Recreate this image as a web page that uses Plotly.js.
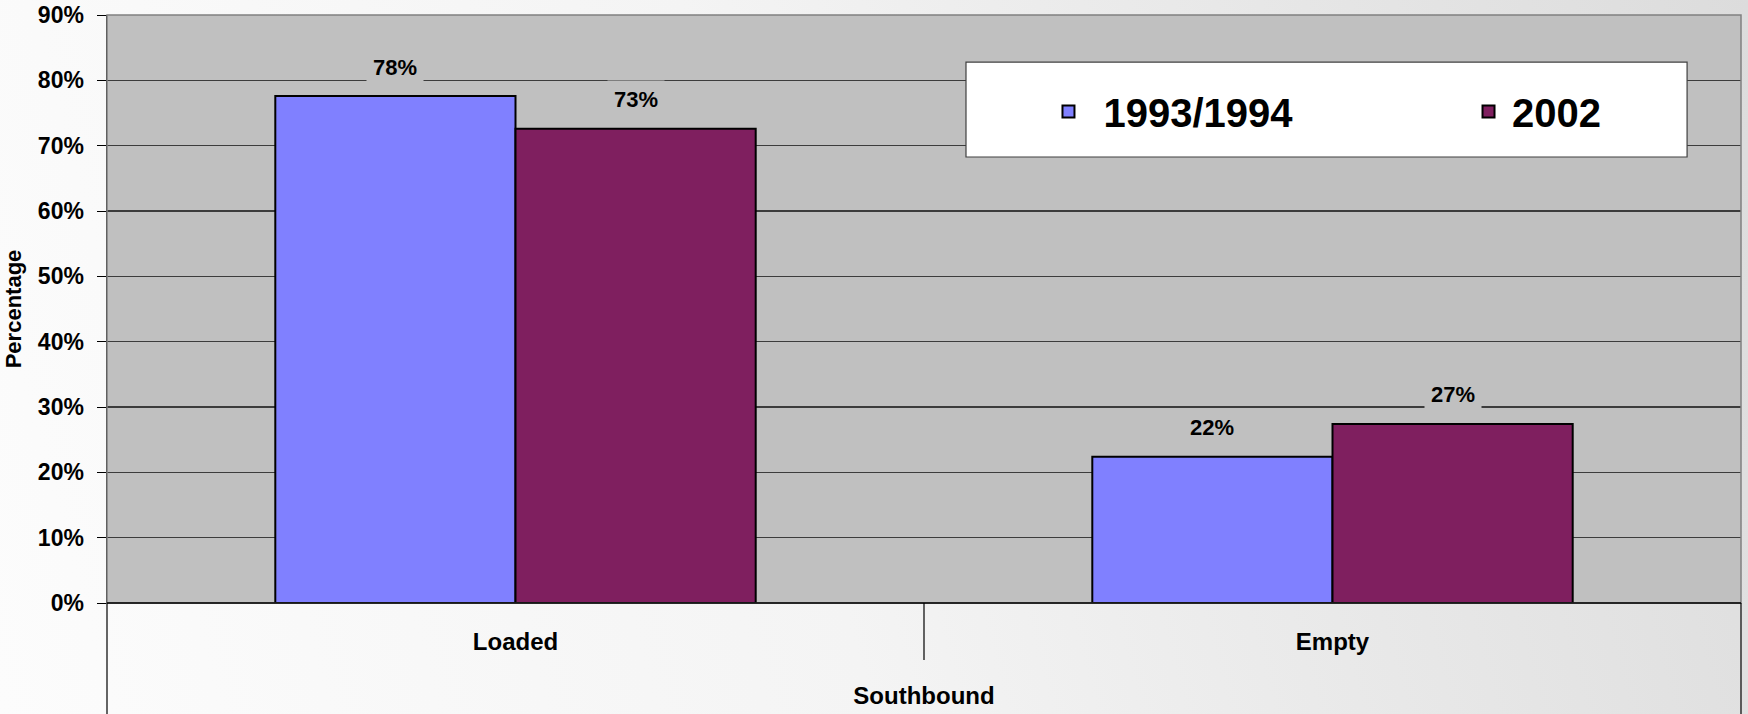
<!DOCTYPE html>
<html><head><meta charset="utf-8">
<script src="https://cdn.plot.ly/plotly-3.0.1.min.js"></script>
<style>
html,body{margin:0;padding:0;}
body{width:1748px;height:714px;overflow:hidden;background:linear-gradient(75deg,#fcfcfc 0%,#f4f4f4 45%,#dcdcdc 100%);}
#chart{width:1748px;height:714px;}
</style></head><body><div id="chart"></div>
<script>
// ---- data ----
const groupName = 'Southbound';
const categories = ['Loaded', 'Empty'];
const seriesNames = ['1993/1994', '2002'];
const values1993 = [77.6, 22.4];
const values2002 = [72.6, 27.4];
const labels1993 = ['78%', '22%'];
const labels2002 = ['73%', '27%'];
const yTickValues = [0, 10, 20, 30, 40, 50, 60, 70, 80, 90];
const yTickLabels = ['0%', '10%', '20%', '30%', '40%', '50%', '60%', '70%', '80%', '90%'];
const yTitle = 'Percentage';

// ---- style ----
const FONT = '"Liberation Sans", Arial, sans-serif';
const colors = ['#8080FF', '#7F1F5F'];
const bargap = 0.412;
const W = 1748, H = 714;
const M = {l: 107, r: 7, t: 15, b: 111};
const plotH = H - M.t - M.b;

const seriesValues = [values1993, values2002];
const seriesLabels = [labels1993, labels2002];
const legendIds = ['legend', 'legend2'];

const traces = seriesNames.map((name, s) => ({
  type: 'bar',
  name: name,
  x: categories,
  y: seriesValues[s],
  legend: legendIds[s],
  marker: {color: colors[s], line: {color: '#000000', width: 2}},
  hoverinfo: 'skip'
}));

const barW = (1 - bargap) / seriesNames.length;
const annotations = [];
seriesNames.forEach((name, s) => {
  seriesValues[s].forEach((v, i) => {
    const off = (s - (seriesNames.length - 1) / 2) * barW;
    annotations.push({
      xref: 'paper', yref: 'y',
      x: (i + 0.5 + off) / categories.length,
      y: v,
      yshift: 29,
      xanchor: 'center', yanchor: 'middle',
      text: seriesLabels[s][i],
      showarrow: false,
      bgcolor: '#C0C0C0',
      borderpad: 6,
      font: {family: FONT, size: 22, weight: 'bold', color: '#000000'}
    });
  });
});

const legendFont = {family: FONT, size: 40, weight: 'bold', color: '#000000'};
const legendBase = {
  orientation: 'h', xanchor: 'left', yanchor: 'middle', y: 0.836,
  bgcolor: 'rgba(0,0,0,0)', borderwidth: 0, font: legendFont
};

const bottomY = -M.b / plotH;
const shapes = [
  {type: 'rect', xref: 'paper', yref: 'paper', x0: 0, x1: 1, y0: 0, y1: 1,
   line: {color: '#808080', width: 1.5}, fillcolor: 'rgba(0,0,0,0)', layer: 'above'},
  {type: 'line', xref: 'paper', yref: 'paper', x0: 0, x1: 1, y0: 0, y1: 0,
   line: {color: '#000000', width: 1.5}, layer: 'above'},
  // outer ends of the category axis
  {type: 'line', xref: 'paper', yref: 'paper', x0: 0, x1: 0, y0: 0, y1: bottomY,
   line: {color: '#000000', width: 1.2}, layer: 'above'},
  {type: 'line', xref: 'paper', yref: 'paper', x0: 1, x1: 1, y0: 0, y1: bottomY,
   line: {color: '#000000', width: 1.2}, layer: 'above'},
  // legend box
  {type: 'rect', xref: 'paper', yref: 'paper', x0: 0.5257, x1: 0.967, y0: 0.7585, y1: 0.920,
   line: {color: '#404040', width: 1.2}, fillcolor: '#FFFFFF', layer: 'above'}
];
// category boundary ticks
for (let k = 1; k < categories.length; k++) {
  shapes.push({type: 'line', xref: 'paper', yref: 'paper', x0: k / categories.length, x1: k / categories.length,
    y0: 0, y1: -57 / plotH, line: {color: '#000000', width: 1.2}, layer: 'above'});
}

const layout = {
  width: W, height: H,
  margin: M,
  paper_bgcolor: 'rgba(0,0,0,0)',
  plot_bgcolor: '#C0C0C0',
  barmode: 'group',
  bargap: bargap,
  bargroupgap: 0,
  showlegend: true,
  legend: Object.assign({}, legendBase, {x: 0.5670, itemwidth: 60}),
  legend2: Object.assign({}, legendBase, {x: 0.8311, itemwidth: 37}),
  xaxis: {
    type: 'category',
    showgrid: false,
    zeroline: false,
    showline: false,
    ticks: '',
    ticklabelstandoff: 22,
    tickfont: {family: FONT, size: 24, weight: 'bold', color: '#000000'},
    title: {text: groupName, standoff: 33, font: {family: FONT, size: 24, weight: 'bold', color: '#000000'}},
    automargin: false,
    fixedrange: true
  },
  yaxis: {
    range: [0, 90],
    tickvals: yTickValues,
    ticktext: yTickLabels,
    ticks: 'outside',
    ticklen: 9,
    tickcolor: '#000000',
    ticklabelstandoff: 8,
    showgrid: true,
    gridcolor: '#3c3c3c',
    gridwidth: 1.2,
    zeroline: false,
    showline: true,
    linecolor: '#000000',
    linewidth: 1.5,
    tickfont: {family: FONT, size: 23, weight: 'bold', color: '#000000'},
    title: {text: yTitle, standoff: 10, font: {family: FONT, size: 22, weight: 'bold', color: '#000000'}},
    automargin: false,
    fixedrange: true
  },
  shapes: shapes,
  annotations: annotations
};

Plotly.newPlot('chart', traces, layout, {displayModeBar: false, staticPlot: true});
</script>
</body></html>
